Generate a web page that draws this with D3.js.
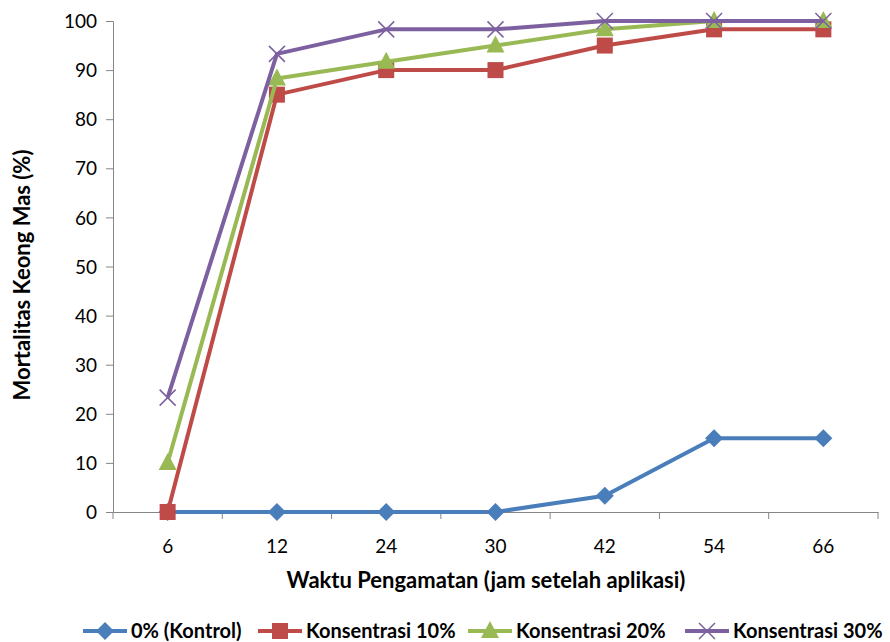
<!DOCTYPE html>
<html>
<head>
<meta charset="utf-8">
<script src="https://cdn.jsdelivr.net/npm/d3@7"></script>
<style>
  body { margin: 0; background: #fff; }
  text { font-family: Lato, "Open Sans", sans-serif; fill: #000; }
</style>
</head>
<body>
<div id="chart"></div>
<script>
// Data
var categories = ["6", "12", "24", "30", "42", "54", "66"];
var seriesNames = ["0% (Kontrol)", "Konsentrasi 10%", "Konsentrasi 20%", "Konsentrasi 30%"];
var kontrol = [0, 0, 0, 0, 3.3, 15, 15];
var kons10 = [0, 85, 90, 90, 95, 98.3, 98.3];
var kons20 = [10, 88.3, 91.7, 95, 98.3, 100, 100];
var kons30 = [23.3, 93.3, 98.3, 98.3, 100, 100, 100];
var yTicks = [0, 10, 20, 30, 40, 50, 60, 70, 80, 90, 100];

var colors = ["#4a7ebb", "#be4b48", "#98b954", "#7d60a0"];
var markers = ["diamond", "square", "triangle", "cross"];
var allSeries = [kontrol, kons10, kons20, kons30];

var svgWidth = 890, svgHeight = 642;
var margin = { top: 21, right: 12, bottom: 130, left: 113 };
var chartWidth = svgWidth - margin.left - margin.right;
var chartHeight = svgHeight - margin.top - margin.bottom;

var svg = d3.select("#chart").append("svg")
    .attr("width", svgWidth)
    .attr("height", svgHeight);

var chartGroup = svg.append("g")
    .attr("transform", `translate(${margin.left}, ${margin.top})`);

var xScale = d3.scaleBand()
    .domain(categories)
    .range([0, chartWidth]);

var yScale = d3.scaleLinear()
    .domain([0, 100])
    .range([chartHeight, 0]);

// Y axis
var yAxis = chartGroup.append("g")
    .call(d3.axisLeft(yScale).tickValues(yTicks).tickSize(7).tickPadding(9));
yAxis.select(".domain").attr("stroke", "#868686");
yAxis.selectAll(".tick line").attr("stroke", "#868686");
yAxis.selectAll(".tick text").style("font-size", "19px").attr("dy", "0.35em");

// X axis: ticks between categories
var xAxis = chartGroup.append("g")
    .attr("transform", `translate(0, ${chartHeight})`)
    .call(d3.axisBottom(xScale).tickSize(0).tickPadding(28));
xAxis.select(".domain").attr("stroke", "#868686");
xAxis.selectAll(".tick text").style("font-size", "19px");
var bounds = categories.map(c => xScale(c)).concat([chartWidth]);
xAxis.selectAll(".sep").data(bounds).enter().append("line")
    .attr("class", "sep")
    .attr("x1", d => d).attr("x2", d => d)
    .attr("y1", 0).attr("y2", 7)
    .attr("stroke", "#868686");

// Axis titles
svg.append("text")
    .attr("text-anchor", "middle")
    .attr("x", 486)
    .attr("y", 588)
    .style("font-size", "22px")
    .style("font-weight", "bold")
    .text("Waktu Pengamatan (jam setelah aplikasi)");

svg.append("text")
    .attr("text-anchor", "middle")
    .attr("transform", "translate(30, 275) rotate(-90)")
    .style("font-size", "22px")
    .style("font-weight", "bold")
    .text("Mortalitas Keong Mas (%)");

function xPos(i) { return xScale(categories[i]) + xScale.bandwidth() / 2; }

var line = d3.line()
    .x((d, i) => xPos(i))
    .y(d => yScale(d));

function drawMarker(g, type, color, x, y) {
    if (type === "diamond") {
        g.append("path")
            .attr("d", `M${x},${y - 9}L${x + 9},${y}L${x},${y + 9}L${x - 9},${y}Z`)
            .attr("fill", color);
    } else if (type === "square") {
        g.append("rect")
            .attr("x", x - 8).attr("y", y - 8)
            .attr("width", 16).attr("height", 16)
            .attr("fill", color);
    } else if (type === "triangle") {
        g.append("path")
            .attr("d", `M${x},${y - 10}L${x + 9},${y + 7}L${x - 9},${y + 7}Z`)
            .attr("fill", color);
    } else {
        g.append("path")
            .attr("d", `M${x - 8},${y - 8}L${x + 8},${y + 8}M${x - 8},${y + 8}L${x + 8},${y - 8}`)
            .attr("stroke", color)
            .attr("stroke-width", 1.5)
            .attr("fill", "none");
    }
}

// Series lines and markers
allSeries.forEach(function(values, s) {
    var g = chartGroup.append("g");
    g.append("path")
        .datum(values)
        .attr("d", line)
        .attr("fill", "none")
        .attr("stroke", colors[s])
        .attr("stroke-width", 4)
        .attr("stroke-linejoin", "round");
    values.forEach(function(v, i) {
        drawMarker(g, markers[s], colors[s], xPos(i), yScale(v));
    });
});

// Legend
var legendX = [83, 258, 468, 685];
var legend = svg.append("g").attr("transform", "translate(0, 631)");
seriesNames.forEach(function(name, s) {
    var g = legend.append("g").attr("transform", `translate(${legendX[s]}, 0)`);
    g.append("line")
        .attr("x1", 0).attr("x2", 44)
        .attr("y1", 0).attr("y2", 0)
        .attr("stroke", colors[s])
        .attr("stroke-width", 4);
    drawMarker(g, markers[s], colors[s], 22, 0);
    g.append("text")
        .attr("x", 48)
        .attr("y", 0)
        .attr("dy", "0.35em")
        .style("font-size", "20px")
        .style("font-weight", "bold")
        .text(name);
});
</script>
</body>
</html>
